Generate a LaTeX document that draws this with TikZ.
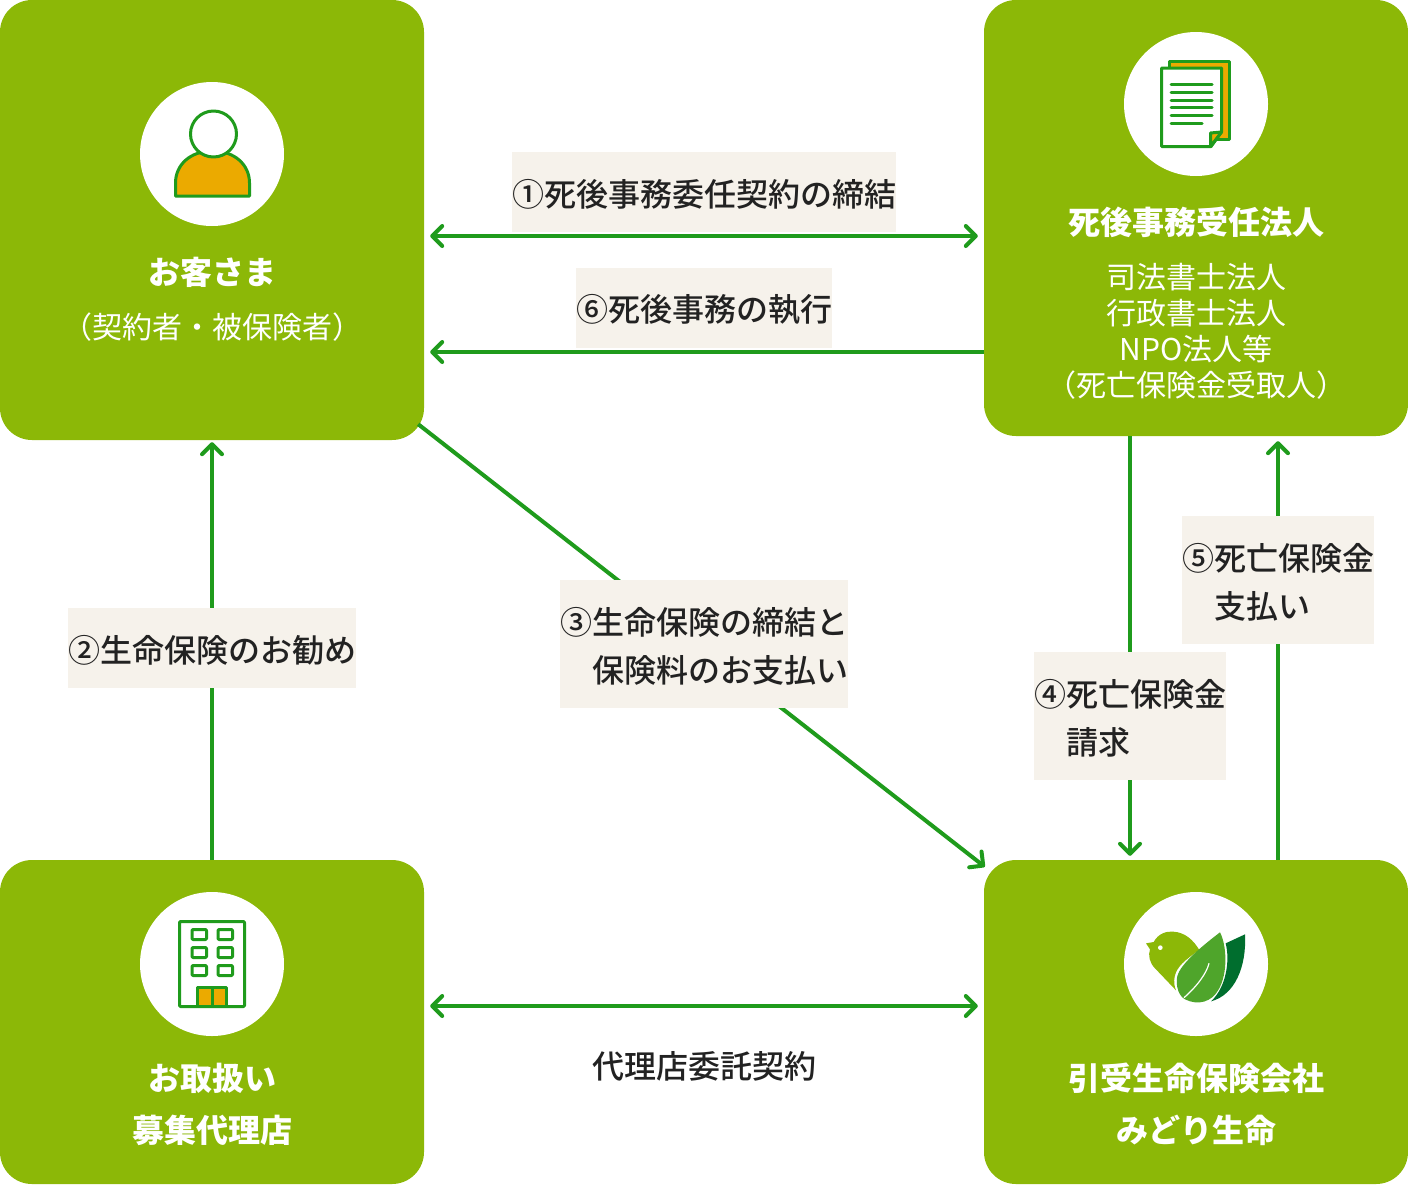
\documentclass[tikz,border=0pt]{standalone}
\usepackage{fontspec}
\setmainfont{Noto Sans CJK JP}
\newfontfamily\medfont{Noto Sans CJK JP Medium}
\usetikzlibrary{arrows.meta,calc}
\definecolor{boxgreen}{HTML}{8CB807}
\definecolor{linegreen}{HTML}{1F9B1C}
\definecolor{iconorange}{HTML}{EBAA00}
\definecolor{labelbg}{HTML}{F6F2EB}
\definecolor{inktext}{HTML}{222222}
\definecolor{leafmid}{HTML}{4FA52B}
\definecolor{leafdark}{HTML}{006E2E}
\newcommand{\lowered}[1]{\raisebox{-2pt}[\height][\depth]{#1}}
\tikzset{
  party/.style={fill=boxgreen,draw=none,rounded corners=32pt,inner sep=0pt},
  disc/.style={circle,fill=white,draw=none,minimum size=144pt,inner sep=0pt},
  title/.style={text=white,font=\fontsize{32}{52}\selectfont\bfseries,align=center,inner sep=0pt},
  subtitle/.style={text=white,font=\fontsize{30}{36}\selectfont,align=center,inner sep=0pt},
  flowlabel/.style={fill=labelbg,text=inktext,font=\medfont\fontsize{32}{48}\selectfont,align=left,inner sep=0pt},
  plainlabel/.style={text=inktext,font=\medfont\fontsize{32}{48}\selectfont,inner sep=0pt},
  conn/.style={draw=linegreen,line width=4pt,shorten <=0pt},
  tipend/.style={-{Straight Barb[length=10pt,width=20pt,round,line width=4pt]}},
  tipboth/.style={{Straight Barb[length=10pt,width=20pt,round,line width=4pt]}-{Straight Barb[length=10pt,width=20pt,round,line width=4pt]}},
  icon/.style={draw=linegreen,line width=3pt,line join=round},
}
\begin{document}
\begin{tikzpicture}[x=1pt,y=-1pt]
\useasboundingbox (0,0) rectangle (1408,1184);
% parties
\node[party,minimum width=424pt,minimum height=440pt] (cust) at (212,220) {};
\node[party,minimum width=424pt,minimum height=436pt] (corp) at (1196,218) {};
\node[party,minimum width=424pt,minimum height=324pt] (agent) at (212,1022) {};
\node[party,minimum width=424pt,minimum height=324pt] (life) at (1196,1022) {};
% connectors
\draw[conn,tipboth,shorten <=6pt,shorten >=6pt] ($(cust.east)+(0,16)$) -- ($(corp.west)+(0,18)$);
\draw[conn,tipend,shorten >=6pt] ($(corp.west)+(0,134)$) -- ($(cust.east)+(0,132)$);
\draw[conn,tipend,shorten >=2pt] (agent.north) -- (cust.south);
\draw[conn,tipend,shorten >=0pt] ($(cust.south east)+(-6,-16)$) -- ($(life.north west)+(1,7)$);
\draw[conn,tipend,shorten >=4pt] ($(corp.south)+(-66,0)$) -- ($(life.north)+(-66,0)$);
\draw[conn,tipend,shorten >=5pt] ($(life.north)+(82,0)$) -- ($(corp.south)+(82,0)$);
\draw[conn,tipboth,shorten <=6pt,shorten >=6pt] ($(agent.east)+(0,-16)$) -- ($(life.west)+(0,-16)$);
% connector labels
\node[flowlabel,minimum width=384pt,minimum height=80pt] (l1) at (704,192) {\lowered{①死後事務委任契約の締結}};
\node[flowlabel,minimum width=256pt,minimum height=80pt] (l6) at (704,308) {\lowered{⑥死後事務の執行}};
\node[flowlabel,minimum width=288pt,minimum height=80pt] (l2) at (212,648) {\lowered{②生命保険のお勧め}};
\node[flowlabel,minimum width=288pt,minimum height=128pt] (l3) at (704,644) {\lowered{③生命保険の締結と}\\\hspace*{32pt}\lowered{保険料のお支払い}};
\node[flowlabel,minimum width=192pt,minimum height=128pt] (l4) at (1130,716) {\lowered{④死亡保険金}\\\hspace*{32pt}\lowered{請求}};
\node[flowlabel,minimum width=192pt,minimum height=128pt] (l5) at (1278,580) {\lowered{⑤死亡保険金}\\\hspace*{32pt}\lowered{支払い}};
\node[plainlabel] (l7) at (704,1066) {代理店委託契約};
% party texts
\node[title] (t1) at (212,272) {お客さま};
\node[subtitle] (s1) at (212,327) {（契約者・被保険者）};
\node[title] (t2) at (1196,222.5) {死後事務受任法人};
\node[subtitle] (s2) at (1196,331) {司法書士法人\\行政書士法人\\NPO法人等\\（死亡保険金受取人）};
\node[title] (t3) at (212,1104) {お取扱い\\募集代理店};
\node[title] (t4) at (1196,1104) {引受生命保険会社\\みどり生命};
% discs
\node[disc] (d1) at (212,154) {};
\node[disc] (d2) at (1196,104) {};
\node[disc] (d3) at (212,964) {};
\node[disc] (d4) at (1196,964) {};
% person icon
\draw[icon,fill=iconorange] (175.5,196) -- (175.5,183) .. controls (175.5,165) and (190,151) .. (212.5,151) .. controls (235,151) and (249.5,165) .. (249.5,183) -- (249.5,196) -- cycle;
\draw[icon,fill=white] (213.5,134) circle (23pt);
% document icon
\draw[icon,fill=iconorange] (1169,68) -- (1169,61.5) -- (1229,61.5) -- (1229,139) -- (1216,139) -- (1216,68) -- cycle;
\draw[icon,fill=white] (1161.5,68) -- (1221.5,68) -- (1221.5,132) -- (1211,146.5) -- (1161.5,146.5) -- cycle;
\draw[icon,fill=iconorange] (1221.5,132) -- (1210.5,133) -- (1210.5,146.5) -- cycle;
\foreach \yy/\xx in {84.7/1212,92.3/1212,100/1212,107.7/1212,115.3/1212,123/1202}
  \draw[icon,line cap=round] (1171,\yy) -- (\xx,\yy);
% building icon
\draw[icon,fill=white,rounded corners=1pt] (179.5,921.5) rectangle (244.5,1006.5);
\foreach \wx in {192,218}\foreach \wy in {929.5,947.5,965.5}
  \draw[icon,rounded corners=1pt] (\wx,\wy) rectangle (\wx+14.5,\wy+10);
\draw[icon,fill=iconorange] (197.5,987.5) rectangle (226.5,1006.5);
\draw[icon] (212,987.5) -- (212,1006.5);
% bird logo
\begin{scope}[shift={(1110,880)},x=0.3333pt,y=-0.3333pt]
\fill[boxgreen] (108,190) -- (131,186) .. controls (145,160) and (170,153) .. (190,155)
  .. controls (225,157) and (250,180) .. (268,210)
  .. controls (225,240) and (200,260) .. (194,290)
  .. controls (191,305) and (193,320) .. (198,331)
  -- (135,265) .. controls (118,248) and (114,225) .. (120,208) -- cycle;
\fill[white] (151,203) circle (7);
\fill[leafmid] (330,157) .. controls (350,195) and (355,280) .. (325,330)
  .. controls (305,365) and (265,378) .. (225,358)
  .. controls (200,345) and (195,300) .. (205,280)
  .. controls (220,245) and (280,195) .. (330,157) -- cycle;
\draw[white,line width=1.2pt] (222,353) .. controls (260,320) and (290,280) .. (297,250);
\fill[leafdark] (405,163) -- (347,190) .. controls (360,240) and (350,320) .. (303,364)
  .. controls (375,345) and (410,260) .. (405,163) -- cycle;
\end{scope}
\end{tikzpicture}
\end{document}
